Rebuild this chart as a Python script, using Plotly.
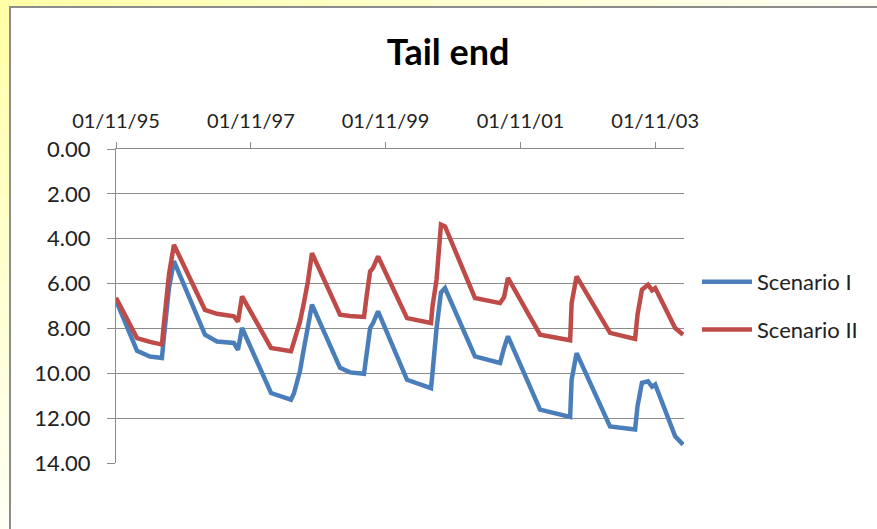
import plotly.graph_objects as go

# Sampled observation dates (shared by both scenarios)
dates = [
    "1995-11-01", "1996-02-23", "1996-05-03", "1996-07-07", "1996-07-15",
    "1996-07-29", "1996-08-14", "1996-09-10", "1997-02-25", "1997-05-01",
    "1997-08-01", "1997-08-23", "1997-09-14", "1998-02-18", "1998-06-06",
    "1998-06-22", "1998-07-25", "1998-08-15", "1998-09-06", "1998-09-28",
    "1999-02-27", "1999-04-22", "1999-07-07", "1999-07-21", "1999-08-09",
    "1999-08-25", "1999-09-21", "2000-02-25", "2000-07-04", "2000-07-12",
    "2000-08-03", "2000-08-27", "2000-09-18", "2001-02-27", "2001-07-13",
    "2001-08-04", "2001-08-25", "2002-02-15", "2002-07-28", "2002-08-05",
    "2002-09-01", "2003-03-01", "2003-07-15", "2003-07-28", "2003-08-21",
    "2003-09-23", "2003-10-15", "2003-11-01", "2004-02-17", "2004-03-31",
]

scenario_1 = [
    6.75, 9.00, 9.25, 9.32, 8.60,
    7.50, 6.20, 5.00, 8.28, 8.58,
    8.65, 8.95, 7.98, 10.88, 11.18,
    10.90, 9.90, 8.90, 7.80, 6.94,
    9.76, 9.96, 10.02, 9.02, 7.98,
    7.76, 7.24, 10.29, 10.66, 9.99,
    8.00, 6.40, 6.20, 9.25, 9.54,
    8.87, 8.35, 11.62, 11.95, 10.29,
    9.10, 12.37, 12.51, 11.47, 10.43,
    10.36, 10.60, 10.50, 12.81, 13.18,
]

scenario_2 = [
    6.63, 8.43, 8.60, 8.72, 8.00,
    7.00, 5.60, 4.27, 7.17, 7.35,
    7.46, 7.70, 6.57, 8.87, 9.02,
    8.60, 7.70, 6.87, 5.90, 4.64,
    7.39, 7.45, 7.49, 6.57, 5.46,
    5.30, 4.79, 7.54, 7.76, 7.02,
    5.83, 3.37, 3.45, 6.64, 6.87,
    6.60, 5.75, 8.28, 8.53, 6.87,
    5.68, 8.20, 8.47, 7.39, 6.27,
    6.05, 6.30, 6.20, 7.98, 8.28,
]

x_ticks = ["1995-11-01", "1997-11-01", "1999-11-01", "2001-11-01", "2003-11-01"]
y_ticks = [0, 2, 4, 6, 8, 10, 12, 14]

W, H = 877, 529
L, R, T, B = 116, 193, 149, 66
pw, ph = W - L - R, H - T - B


def px_x(p):
    return (p - L) / pw


def px_y(p):
    return (H - B - p) / ph


fig = go.Figure()
fig.add_trace(go.Scatter(x=dates, y=scenario_1, mode="lines", name="Scenario I",
                         legendgroup="s1",
                         line=dict(color="#4A7EBB", width=4.5)))
fig.add_trace(go.Scatter(x=dates, y=scenario_2, mode="lines", name="Scenario II",
                         legendgroup="s2",
                         line=dict(color="#BE4B48", width=4.5)))

shapes = []
# soft yellow backdrop fading from the top-left corner
n = 24
for i in range(n):
    t = i / (n - 1)
    g = int(168 + (245 - 168) * t)
    col = f"rgb(255,255,{g})"
    # left strip, top to bottom
    shapes.append(dict(type="rect", xref="paper", yref="paper", layer="below",
                       x0=px_x(0), x1=px_x(10), y0=px_y(H * (i + 1) / n), y1=px_y(H * i / n),
                       fillcolor=col, line=dict(width=0)))
    # top strip, left to right
    shapes.append(dict(type="rect", xref="paper", yref="paper", layer="below",
                       x0=px_x(W * i / n), x1=px_x(W * (i + 1) / n), y0=px_y(7), y1=px_y(0),
                       fillcolor=col, line=dict(width=0)))
# white chart frame with grey border
shapes.append(dict(type="rect", xref="paper", yref="paper", layer="below",
                   x0=px_x(10), x1=px_x(W + 20), y0=px_y(H + 20), y1=px_y(7),
                   fillcolor="white", line=dict(color="#8C8C8C", width=2)))

fig.update_layout(
    width=W, height=H,
    margin=dict(l=L, r=R, t=T, b=B),
    paper_bgcolor="white",
    plot_bgcolor="rgba(0,0,0,0)",
    shapes=shapes,
    font=dict(family="Lato, 'Open Sans', sans-serif", color="#222222"),
    title=dict(text="<b>Tail end</b>", x=0.511, xanchor="center", y=1 - 52 / H, yanchor="middle",
               font=dict(size=36, color="#000000")),
    legend=dict(x=px_x(697), y=px_y(261), xanchor="left", yanchor="top",
                font=dict(size=22, color="#222222"), bgcolor="rgba(0,0,0,0)",
                tracegroupgap=16, itemwidth=50),
    showlegend=True,
)

fig.update_xaxes(
    type="date", side="top",
    range=["1995-11-01", "2004-04-05"],
    tickvals=x_ticks, tickformat="%d/%m/%y",
    showgrid=False, showline=True, linecolor="#8C8C8C", linewidth=1,
    ticks="outside", ticklen=6, tickcolor="#8C8C8C",
    tickfont=dict(size=20), zeroline=False, ticklabelstandoff=6,
)
fig.update_yaxes(
    range=[14, 0], tickvals=y_ticks, tickformat=".2f",
    showgrid=True, gridcolor="#8C8C8C", gridwidth=1,
    showline=True, linecolor="#8C8C8C", linewidth=1,
    ticks="outside", ticklen=8, tickcolor="#8C8C8C",
    tickfont=dict(size=22), zeroline=False, ticklabelstandoff=12,
)

fig.write_html("out.html")
